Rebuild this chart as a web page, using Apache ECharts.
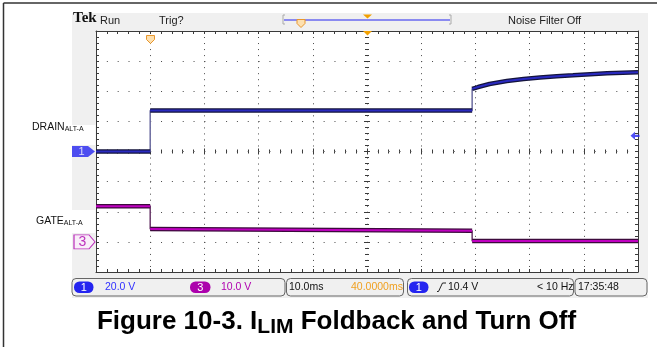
<!DOCTYPE html>
<html>
<head>
<meta charset="utf-8">
<script src="https://cdn.jsdelivr.net/npm/echarts@6/dist/echarts.min.js"></script>
<style>
  html, body { margin: 0; padding: 0; background: #fff; }
  #chart { width: 660px; height: 347px; }
</style>
</head>
<body>
<div id="chart"></div>
<script>
// Acquisition settings
const ch1VoltsPerDiv = 20;      // DRAIN
const ch3VoltsPerDiv = 10;      // GATE
const timePerDivMs = 10;
const horizPositionMs = 40;     // trigger-to-centre delay
const triggerLevelV = 10.4;

// Channel 1: DRAIN voltage (time in ms after trigger, volts)
const drainTimeMs = [-10, 0, 0, 59.4, 59.4, 60.5, 62.6, 65.8, 68.9, 71.9, 75.0, 78.0, 81.2, 84.3, 87.2, 90];
const drainVolts  = [0,   0, 27.2, 27.2, 41.6, 42.8, 44.8, 46.8, 48.2, 49.2, 50.0, 50.6, 51.3, 51.9, 52.3, 52.6];

// Channel 3: GATE voltage
const gateTimeMs = [-10, 0, 0, 59.4, 59.4, 90];
const gateVolts  = [11.8, 11.8, 4.3, 3.7, 0.3, 0.3];

// Screen layout in divisions
const hDivs = 10, vDivs = 8;
const ch1GroundDivFromBottom = 4;
const ch3GroundDivFromBottom = 1;

const SANS = '"Liberation Sans", Arial, sans-serif';
const BLUE = '#2424f0';
const MAGENTA = '#ac00ac';
const ORANGE = '#f0a020';
const INK = '#3a3a3a';
const DOTS = '#4a4a4a';

function pairs(t, v) { return t.map((x, i) => [x, v[i]]); }
// same trace but broken at vertical steps, so the steps stay thin
function flatRuns(t, v) {
  const out = [];
  t.forEach((x, i) => {
    if (i > 0 && x === t[i - 1]) out.push([x, null]);
    out.push([x, v[i]]);
  });
  return out;
}

const timeMin = (horizPositionMs - (hDivs / 2) * timePerDivMs);   // -10 ms
const timeMax = timeMin + hDivs * timePerDivMs;                    // 90 ms

const borderLine = { show: true, onZero: false, lineStyle: { color: INK, width: 1 } };
const edgeTick = { show: true, inside: true, length: 3, lineStyle: { color: INK, width: 1 } };
const edgeMinor = { show: true, splitNumber: 5, length: 3, lineStyle: { color: INK, width: 1 } };
const noLabel = { show: false };

function divAxisX(extra) {
  return Object.assign({
    type: 'value', min: -hDivs / 2, max: hDivs / 2, interval: 1,
    axisLabel: noLabel, splitLine: { show: false }
  }, extra);
}
function divAxisY(extra) {
  return Object.assign({
    type: 'value', min: -vDivs / 2, max: vDivs / 2, interval: 1,
    axisLabel: noLabel, splitLine: { show: false }
  }, extra);
}
function centreTicks(inside) {
  return {
    axisTick: { show: true, inside: inside, length: 3, lineStyle: { color: INK } },
    minorTick: { show: true, splitNumber: 5, length: 2, lineStyle: { color: INK } }
  };
}

const chart = echarts.init(document.getElementById('chart'), null, { renderer: 'canvas' });

const statusText = (x, text, fill, extra) => Object.assign({
  type: 'text', z: 21, x: x, y: 287,
  style: { text: text, fontFamily: SANS, fontSize: 10.5, fill: fill, verticalAlign: 'middle' }
}, extra || {});

const option = {
  animation: false,
  backgroundColor: '#ffffff',
  grid: {
    left: 96, top: 31, width: 542, height: 241,
    show: true, backgroundColor: '#ffffff', borderWidth: 0,
    containLabel: false, outerBoundsMode: 'none'
  },
  xAxis: [
    { type: 'value', min: timeMin, max: timeMax, show: false },
    divAxisX({ position: 'bottom', axisLine: borderLine, axisTick: edgeTick, minorTick: edgeMinor,
      splitLine: { show: true, lineStyle: { color: DOTS, width: 1, type: [1, 5.025] } } }),
    divAxisX({ position: 'top', axisLine: borderLine, axisTick: edgeTick, minorTick: edgeMinor }),
    divAxisX(Object.assign({ position: 'bottom', axisLine: { show: false, onZero: true, onZeroAxisIndex: 2 } }, centreTicks(true))),
    divAxisX(Object.assign({ position: 'bottom', axisLine: { show: false, onZero: true, onZeroAxisIndex: 2 } }, centreTicks(false)))
  ],
  yAxis: [
    { type: 'value', show: false,
      min: -ch1GroundDivFromBottom * ch1VoltsPerDiv,
      max: (vDivs - ch1GroundDivFromBottom) * ch1VoltsPerDiv },
    { type: 'value', show: false,
      min: -ch3GroundDivFromBottom * ch3VoltsPerDiv,
      max: (vDivs - ch3GroundDivFromBottom) * ch3VoltsPerDiv },
    divAxisY({ position: 'left', axisLine: borderLine, axisTick: edgeTick, minorTick: edgeMinor,
      splitLine: { show: true, lineStyle: { color: DOTS, width: 1, type: [1, 9.84] } } }),
    divAxisY({ position: 'right', axisLine: borderLine, axisTick: edgeTick, minorTick: edgeMinor }),
    divAxisY(Object.assign({ position: 'left', axisLine: { show: false, onZero: true, onZeroAxisIndex: 1 } }, centreTicks(true))),
    divAxisY(Object.assign({ position: 'left', axisLine: { show: false, onZero: true, onZeroAxisIndex: 1 } }, centreTicks(false)))
  ],
  series: [
    // DRAIN: thin edges, dark outline, blue core
    { name: 'DRAIN edge', type: 'line', xAxisIndex: 0, yAxisIndex: 0, data: pairs(drainTimeMs, drainVolts),
      symbol: 'none', silent: true, lineStyle: { color: '#6c6ca0', width: 1.5 }, z: 3 },
    { name: 'DRAIN outline', type: 'line', xAxisIndex: 0, yAxisIndex: 0, data: flatRuns(drainTimeMs, drainVolts),
      symbol: 'none', silent: true, connectNulls: false, lineStyle: { color: '#14143c', width: 4.5 }, z: 4 },
    { name: 'DRAIN', type: 'line', xAxisIndex: 0, yAxisIndex: 0, data: flatRuns(drainTimeMs, drainVolts),
      symbol: 'none', silent: true, connectNulls: false, lineStyle: { color: '#2a2ac0', width: 2 }, z: 5 },
    // GATE
    { name: 'GATE edge', type: 'line', xAxisIndex: 0, yAxisIndex: 1, data: pairs(gateTimeMs, gateVolts),
      symbol: 'none', silent: true, lineStyle: { color: '#6a3a6a', width: 1.5 }, z: 3 },
    { name: 'GATE outline', type: 'line', xAxisIndex: 0, yAxisIndex: 1, data: flatRuns(gateTimeMs, gateVolts),
      symbol: 'none', silent: true, connectNulls: false, lineStyle: { color: '#3c0a3c', width: 4.5 }, z: 4 },
    { name: 'GATE', type: 'line', xAxisIndex: 0, yAxisIndex: 1, data: flatRuns(gateTimeMs, gateVolts),
      symbol: 'none', silent: true, connectNulls: false, lineStyle: { color: '#c000c0', width: 2 }, z: 5 },
    // channel ground markers
    { name: 'CH1 ground', type: 'scatter', xAxisIndex: 0, yAxisIndex: 0, data: [[timeMin, 0]], clip: false,
      symbol: 'path://M0,0 L16,0 L23,5.5 L16,11 L0,11 Z', symbolSize: [23, 11], symbolOffset: [-12.5, 0],
      itemStyle: { color: BLUE }, silent: true, z: 10,
      label: { show: true, position: 'inside', formatter: '1', color: '#fff', fontSize: 11, fontFamily: SANS, offset: [-2, 0.5] } },
    { name: 'CH3 ground', type: 'scatter', xAxisIndex: 0, yAxisIndex: 1, data: [[timeMin, 0]], clip: false,
      symbol: 'path://M0,0 L15,0 L21,7 L15,14 L0,14 Z', symbolSize: [21, 14], symbolOffset: [-11.5, 0],
      itemStyle: { color: '#fbeefb', borderColor: MAGENTA, borderWidth: 1 }, silent: true, z: 10,
      label: { show: true, position: 'inside', formatter: '3', color: MAGENTA, fontSize: 14, fontFamily: SANS, offset: [-2, 0.5] } },
    // trigger level arrow
    { name: 'Trigger level', type: 'scatter', xAxisIndex: 0, yAxisIndex: 0, data: [[timeMax, triggerLevelV]], clip: false,
      symbol: 'path://M0,5 L5,0 L5,3.5 L10,3.5 L10,6.5 L5,6.5 L5,10 Z', symbolSize: [9, 8], symbolOffset: [-3, 0],
      itemStyle: { color: BLUE }, silent: true, z: 10 }
  ],
  graphic: [
    // outer frame
    { type: 'line', z: 20, shape: { x1: 3.5, y1: 3, x2: 657, y2: 3 }, style: { stroke: '#333', lineWidth: 1.5 } },
    { type: 'line', z: 20, shape: { x1: 3.5, y1: 3, x2: 3.5, y2: 347 }, style: { stroke: '#333', lineWidth: 1.5 } },
    // instrument panel
    { type: 'rect', z: -10, shape: { x: 72, y: 13, width: 576, height: 285 }, style: { fill: '#f0f0f0' } },
    { type: 'rect', z: 1, shape: { x: 72, y: 125, width: 23.5, height: 20 }, style: { fill: '#ffffff' } },
    { type: 'rect', z: 1, shape: { x: 72, y: 210, width: 23.5, height: 23 }, style: { fill: '#ffffff' } },
    // header
    { type: 'text', z: 20, x: 73, y: 18.5, style: { text: 'Tek', fontFamily: '"Liberation Serif", serif', fontWeight: 'bold', fontSize: 15, fill: '#111', verticalAlign: 'middle' } },
    { type: 'text', z: 20, x: 100, y: 21, style: { text: 'Run', fontFamily: SANS, fontSize: 11, fill: '#222', verticalAlign: 'middle' } },
    { type: 'text', z: 20, x: 159, y: 21, style: { text: 'Trig?', fontFamily: SANS, fontSize: 11, fill: '#222', verticalAlign: 'middle' } },
    { type: 'polyline', z: 20, shape: { points: [[285, 15], [283, 15], [283, 24], [285, 24]] }, style: { stroke: '#aaa', lineWidth: 1, fill: null } },
    { type: 'polyline', z: 20, shape: { points: [[449, 15], [451, 15], [451, 24], [449, 24]] }, style: { stroke: '#aaa', lineWidth: 1, fill: null } },
    { type: 'line', z: 20, shape: { x1: 284, y1: 20, x2: 450, y2: 20 }, style: { stroke: BLUE, lineWidth: 1 } },
    { type: 'polygon', z: 21, shape: { points: [[297, 19.5], [305, 19.5], [305, 23.5], [301, 27.5], [297, 23.5]] }, style: { fill: '#fde0b0', stroke: '#e8962c', lineWidth: 1 } },
    { type: 'polygon', z: 21, shape: { points: [[363, 14.5], [372, 14.5], [367.5, 18.5]] }, style: { fill: '#f2a000' } },
    { type: 'text', z: 20, x: 508, y: 21, style: { text: 'Noise Filter Off', fontFamily: SANS, fontSize: 11, fill: '#222', verticalAlign: 'middle' } },
    // markers on top edge of graticule
    { type: 'polygon', z: 21, shape: { points: [[146.5, 35.5], [154.5, 35.5], [154.5, 39.5], [150.5, 43.5], [146.5, 39.5]] }, style: { fill: '#fde0b0', stroke: '#e8962c', lineWidth: 1 } },
    { type: 'polygon', z: 21, shape: { points: [[363, 31], [372, 31], [367.5, 35.5]] }, style: { fill: '#f2a000' } },
    // trace labels
    { type: 'text', z: 20, x: 32, y: 133, style: { text: '{m|DRAIN}{s|ALT-A}', verticalAlign: 'bottom',
      rich: { m: { fontFamily: SANS, fontSize: 10.5, fill: '#111', verticalAlign: 'bottom' },
              s: { fontFamily: SANS, fontSize: 7, fill: '#111', verticalAlign: 'bottom' } } } },
    { type: 'text', z: 20, x: 36, y: 226.5, style: { text: '{m|GATE}{s|ALT-A}', verticalAlign: 'bottom',
      rich: { m: { fontFamily: SANS, fontSize: 10.5, fill: '#111', verticalAlign: 'bottom' },
              s: { fontFamily: SANS, fontSize: 7, fill: '#111', verticalAlign: 'bottom' } } } },
    // status bar
    { type: 'rect', z: 20, shape: { x: 72, y: 278.5, width: 213, height: 17.5, r: 4 }, style: { fill: '#f0f0f0', stroke: '#666', lineWidth: 1 } },
    { type: 'rect', z: 20, shape: { x: 286.5, y: 278.5, width: 117, height: 17.5, r: 4 }, style: { fill: '#f0f0f0', stroke: '#666', lineWidth: 1 } },
    { type: 'rect', z: 20, shape: { x: 407.5, y: 278.5, width: 166, height: 17.5, r: 4 }, style: { fill: '#f0f0f0', stroke: '#666', lineWidth: 1 } },
    { type: 'rect', z: 20, shape: { x: 575, y: 278.5, width: 72, height: 17.5, r: 4 }, style: { fill: '#f0f0f0', stroke: '#666', lineWidth: 1 } },
    { type: 'rect', z: 21, shape: { x: 74, y: 281.5, width: 19.5, height: 11.5, r: 5.5 }, style: { fill: BLUE } },
    { type: 'text', z: 22, x: 83.8, y: 287.5, style: { text: '1', fontFamily: SANS, fontSize: 11, fill: '#fff', align: 'center', verticalAlign: 'middle' } },
    statusText(105, ch1VoltsPerDiv.toFixed(1) + ' V', '#3030ff'),
    { type: 'rect', z: 21, shape: { x: 190, y: 281.5, width: 20.5, height: 11.5, r: 5.5 }, style: { fill: MAGENTA } },
    { type: 'text', z: 22, x: 200.3, y: 287.5, style: { text: '3', fontFamily: SANS, fontSize: 11, fill: '#fff', align: 'center', verticalAlign: 'middle' } },
    statusText(221, ch3VoltsPerDiv.toFixed(1) + ' V', '#b000b0'),
    statusText(289, timePerDivMs.toFixed(1) + 'ms', '#111'),
    statusText(351, horizPositionMs.toFixed(4) + 'ms', ORANGE),
    { type: 'rect', z: 21, shape: { x: 409, y: 281.5, width: 19.5, height: 11.5, r: 5.5 }, style: { fill: BLUE } },
    { type: 'text', z: 22, x: 418.8, y: 287.5, style: { text: '1', fontFamily: SANS, fontSize: 11, fill: '#fff', align: 'center', verticalAlign: 'middle' } },
    { type: 'polyline', z: 21, shape: { points: [[437, 291.5], [438.5, 291.5], [442.5, 283], [446, 283]] }, style: { stroke: '#222', lineWidth: 1, fill: null } },
    statusText(448, triggerLevelV.toFixed(1) + ' V', '#111'),
    statusText(537, '< 10 Hz', '#111'),
    statusText(578, '17:35:48', '#111'),
    // figure caption
    { type: 'text', z: 20, x: 336.5, y: 309, style: {
      text: '{a|Figure 10-3. I}{b|LIM}{a| Foldback and Turn Off}', align: 'center', verticalAlign: 'top',
      rich: {
        a: { fontFamily: SANS, fontWeight: 'bold', fontSize: 26, fill: '#000', lineHeight: 28, verticalAlign: 'top' },
        b: { fontFamily: SANS, fontWeight: 'bold', fontSize: 21, fill: '#000', lineHeight: 22, padding: [8, 0, 0, 0], verticalAlign: 'top' }
      } } }
  ]
};

chart.setOption(option);
</script>
</body>
</html>
